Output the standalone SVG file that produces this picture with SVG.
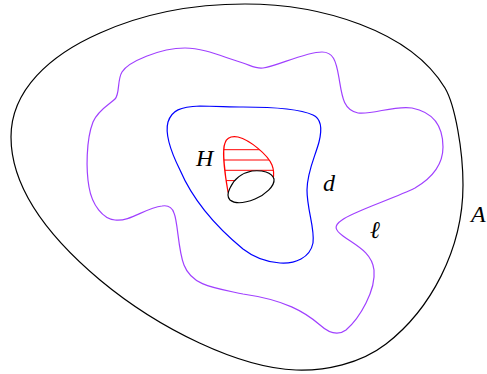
<svg xmlns="http://www.w3.org/2000/svg" width="487" height="374" viewBox="0 0 487 374">
<style>
.c{fill:none;stroke-width:1.2;stroke-linejoin:round;stroke-linecap:round}
.lbl{font-family:"Liberation Serif","DejaVu Serif",serif;font-style:italic;font-size:24px;fill:#000}
</style>
<defs>
<clipPath id="hclip"><path d="M228,192 C225,175 222,150 225,143 C227,137 232,136 238,137 C250,140 268,155 272,165 C274,170 274,175 273,180 L230,195 Z"/></clipPath>
</defs>
<rect width="487" height="374" fill="#fff"/>
<g id="connectors"></g>
<g id="A">
<path class="c" stroke="#000" d="M245,4 C320,4 410,30 445,88 C455,105 463,150 463,185 C463,250 430,310 386,344 C360,364 325,371 296,370 C240,368 160,330 100,280 C50,238 11,190 11,137 C11,90 50,55 100,33 C140,15 190,4 245,4 Z"/>
<text class="lbl" x="471" y="222">A</text>
</g>
<g id="l">
<path class="c" stroke="#a040ff" d="M243,63 C252,66 256,69 263,68 C275,67 305,52 322,52 C333,52 336,60 339,78 C342,96 343,110 358,113 C372,115 395,105 412,108 C432,112 443,125 443,147 C443,165 432,178 415,188 C395,198 352,212 342,220 C333,226 335,230 343,236 C355,245 372,252 374,270 C376,290 360,318 346,330 C338,336 330,334 320,325 C305,312 285,300 243,294 C215,288 192,286 184,265 C178,250 178,222 174,213 C172,207 168,205 162,206 C145,208 130,222 115,220 C103,219 92,205 89,187 C86,170 86,140 93,122 C98,110 110,104 115,99 C120,94 117,80 122,72 C128,62 160,48 185,48 C205,48 225,58 243,63 Z"/>
<text class="lbl" x="370" y="238">ℓ</text>
</g>
<g id="d">
<path class="c" stroke="#0000ff" d="M243,107 C270,107 300,109 313,115 C322,119 322,130 319,142 C315,157 307,172 307,190 C307,210 315,228 313,243 C310,258 295,264 280,263 C265,262 252,256 243,249 C220,230 195,205 180,170 C170,150 165,133 168,122 C172,110 180,107 200,106 C215,106 230,107 243,107 Z"/>
<text class="lbl" x="323" y="191">d</text>
</g>
<g id="H">
<g clip-path="url(#hclip)" stroke="#ff0000" stroke-width="1">
<line x1="215" y1="149.7" x2="285" y2="149.7"/>
<line x1="215" y1="160" x2="285" y2="160"/>
<line x1="215" y1="170.3" x2="285" y2="170.3"/>
<line x1="215" y1="180.6" x2="285" y2="180.6"/>
</g>
<path class="c" stroke="#ff0000" d="M228,192 C225,175 222,150 225,143 C227,137 232,136 238,137 C250,140 268,155 272,165 C274,170 274,175 273,180"/>
<path class="c" stroke="#000" style="fill:#fff" d="M230,188 C234,179 242,173 252,171 C262,170 272,172 274,179 C275,186 265,195 255,199 C245,203 235,204 230,200 C227,197 228,192 230,188 Z"/>
<text class="lbl" x="196" y="166">H</text>
</g>
</svg>
